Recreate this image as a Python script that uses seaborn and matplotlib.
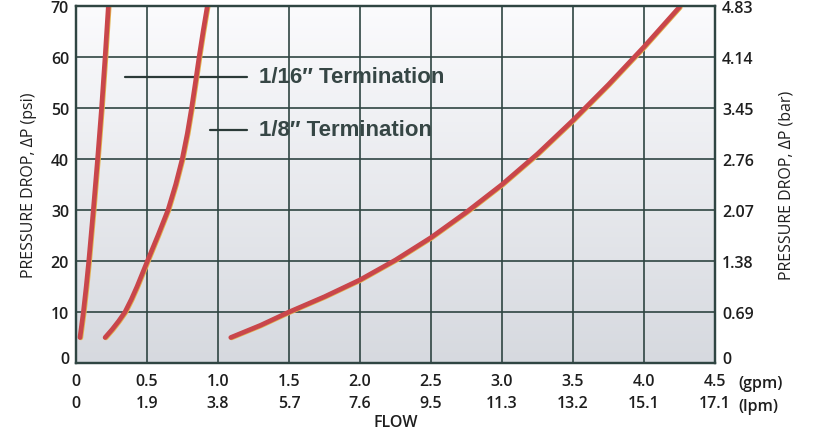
import numpy as np
import pandas as pd
import matplotlib
matplotlib.use("Agg")
import matplotlib.pyplot as plt
import matplotlib.patheffects as pe
import seaborn as sns

# Data (flow in gpm, pressure drop in psi)
flow_16 = [0.028, 0.052, 0.072, 0.090, 0.122, 0.152, 0.180, 0.205, 0.228]
psi_16 = [5, 10, 15, 20, 30, 40, 50, 60, 70]

flow_8 = [0.205, 0.255, 0.300, 0.345, 0.39, 0.43, 0.503, 0.577, 0.648, 0.702, 0.748, 0.784, 0.814, 0.841, 0.867, 0.895, 0.925]
psi_8 = [5, 6.6, 8.2, 10, 12.5, 15, 20, 25, 30, 35, 40, 45, 50, 55, 60, 65, 70]

flow_open = [1.09, 1.30, 1.50, 1.75, 2.00, 2.25, 2.50, 2.75, 3.00, 3.25, 3.50, 3.75, 4.00, 4.25]
psi_open = [5.0, 7.4, 10.0, 13.0, 16.3, 20.2, 24.6, 29.6, 35.0, 41.0, 47.6, 54.6, 62.0, 69.8]

gpm_ticks = [0, 0.5, 1.0, 1.5, 2.0, 2.5, 3.0, 3.5, 4.0, 4.5]
gpm_labels = ["0", "0.5", "1.0", "1.5", "2.0", "2.5", "3.0", "3.5", "4.0", "4.5"]
lpm_labels = ["0", "1.9", "3.8", "5.7", "7.6", "9.5", "11.3", "13.2", "15.1", "17.1"]
psi_ticks = [0, 10, 20, 30, 40, 50, 60, 70]
bar_labels = ["0", "0.69", "1.38", "2.07", "2.76", "3.45", "4.14", "4.83"]

legend_names = ["1/16\u2033 Termination", "1/8\u2033 Termination"]

df = pd.concat([
    pd.DataFrame({"flow": flow_16, "psi": psi_16, "curve": "c16"}),
    pd.DataFrame({"flow": flow_8, "psi": psi_8, "curve": "c8"}),
    pd.DataFrame({"flow": flow_open, "psi": psi_open, "curve": "open"}),
])

sns.set_theme(style="white")
plt.rcParams["font.family"] = ["Open Sans", "DejaVu Sans"]

ink = "#2b3a38"
grid_c = "#2f4542"
red = "#c9464b"

fig = plt.figure(figsize=(8.16, 4.35), dpi=100)
ax = fig.add_axes([76 / 816, 1 - 364 / 435, 639 / 816, 357 / 435])

# gradient background, light at the top
grad = np.linspace(0, 1, 256).reshape(-1, 1)
cmap = matplotlib.colors.LinearSegmentedColormap.from_list("bg", ["#fbfbfd", "#d6d9df"])
ax.imshow(grad, cmap=cmap, aspect="auto", extent=[0, 4.5, 0, 70], origin="upper", zorder=0)

ax.set_xlim(0, 4.5)
ax.set_ylim(0, 70)

ax.set_xticks(gpm_ticks)
ax.set_yticks(psi_ticks)
ax.grid(True, color=grid_c, lw=1.2, zorder=1)
ax.set_axisbelow(False)

for name, sub in df.groupby("curve", sort=False):
    sns.lineplot(data=sub, x="flow", y="psi", sort=False, ax=ax, color=red,
                 lw=3.4, solid_capstyle="round", solid_joinstyle="round", zorder=4, legend=False,
                 path_effects=[pe.SimpleLineShadow(offset=(0.6, -0.3), shadow_color="#e2b24e", alpha=1),
                               pe.Normal()])

# annotation lines and labels
ax.plot([0.345, 1.206], [56.1, 56.1], color=ink, lw=1.6, zorder=3)
ax.plot([0.945, 1.206], [45.7, 45.7], color=ink, lw=1.6, zorder=3)
for yv, txt in zip([56.1, 45.7], legend_names):
    ax.text(1.29, yv, txt, fontsize=16, fontweight="bold", color="#364645",
            family=["Liberation Sans", "DejaVu Sans"], va="center", ha="left", zorder=5)

tick_font = dict(fontsize=11.5, fontweight="semibold", color="#1e1e1e")
ax.set_xticklabels([f"{g}\n{l}" for g, l in zip(gpm_labels, lpm_labels)],
                   linespacing=1.55, **tick_font)
ax.set_yticklabels([str(v) for v in psi_ticks], **tick_font)
ax.tick_params(axis="both", length=0)
ax.tick_params(axis="x", pad=7)
ax.tick_params(axis="y", pad=5)

ax.text(1.036, -0.035, "(gpm)\n(lpm)", transform=ax.transAxes, ha="left", va="top",
        linespacing=1.55, **tick_font)

ax2 = ax.twinx()
ax2.set_ylim(0, 70)
ax2.set_yticks(psi_ticks)
ax2.set_yticklabels(bar_labels, **tick_font)
ax2.tick_params(axis="y", length=0, pad=5)
ax2.grid(False)

# the "0" labels sit a little above the bottom edge
ax.get_yticklabels()[0].set_verticalalignment("baseline")
ax2.get_yticklabels()[0].set_verticalalignment("baseline")

for a in (ax, ax2):
    for s in a.spines.values():
        s.set_color(grid_c)
        s.set_linewidth(1.6)

ax.set_ylabel("PRESSURE DROP, \u0394P (psi)", fontsize=11.5, color="#1e1e1e", labelpad=10)
ax2.set_ylabel("PRESSURE DROP, \u0394P (bar)", fontsize=11.5, color="#1e1e1e",
               rotation=90, labelpad=18)
ax.set_xlabel("FLOW", fontsize=11.5, fontweight="semibold", color="#1e1e1e", labelpad=2)

fig.savefig("out.png", dpi=100)
